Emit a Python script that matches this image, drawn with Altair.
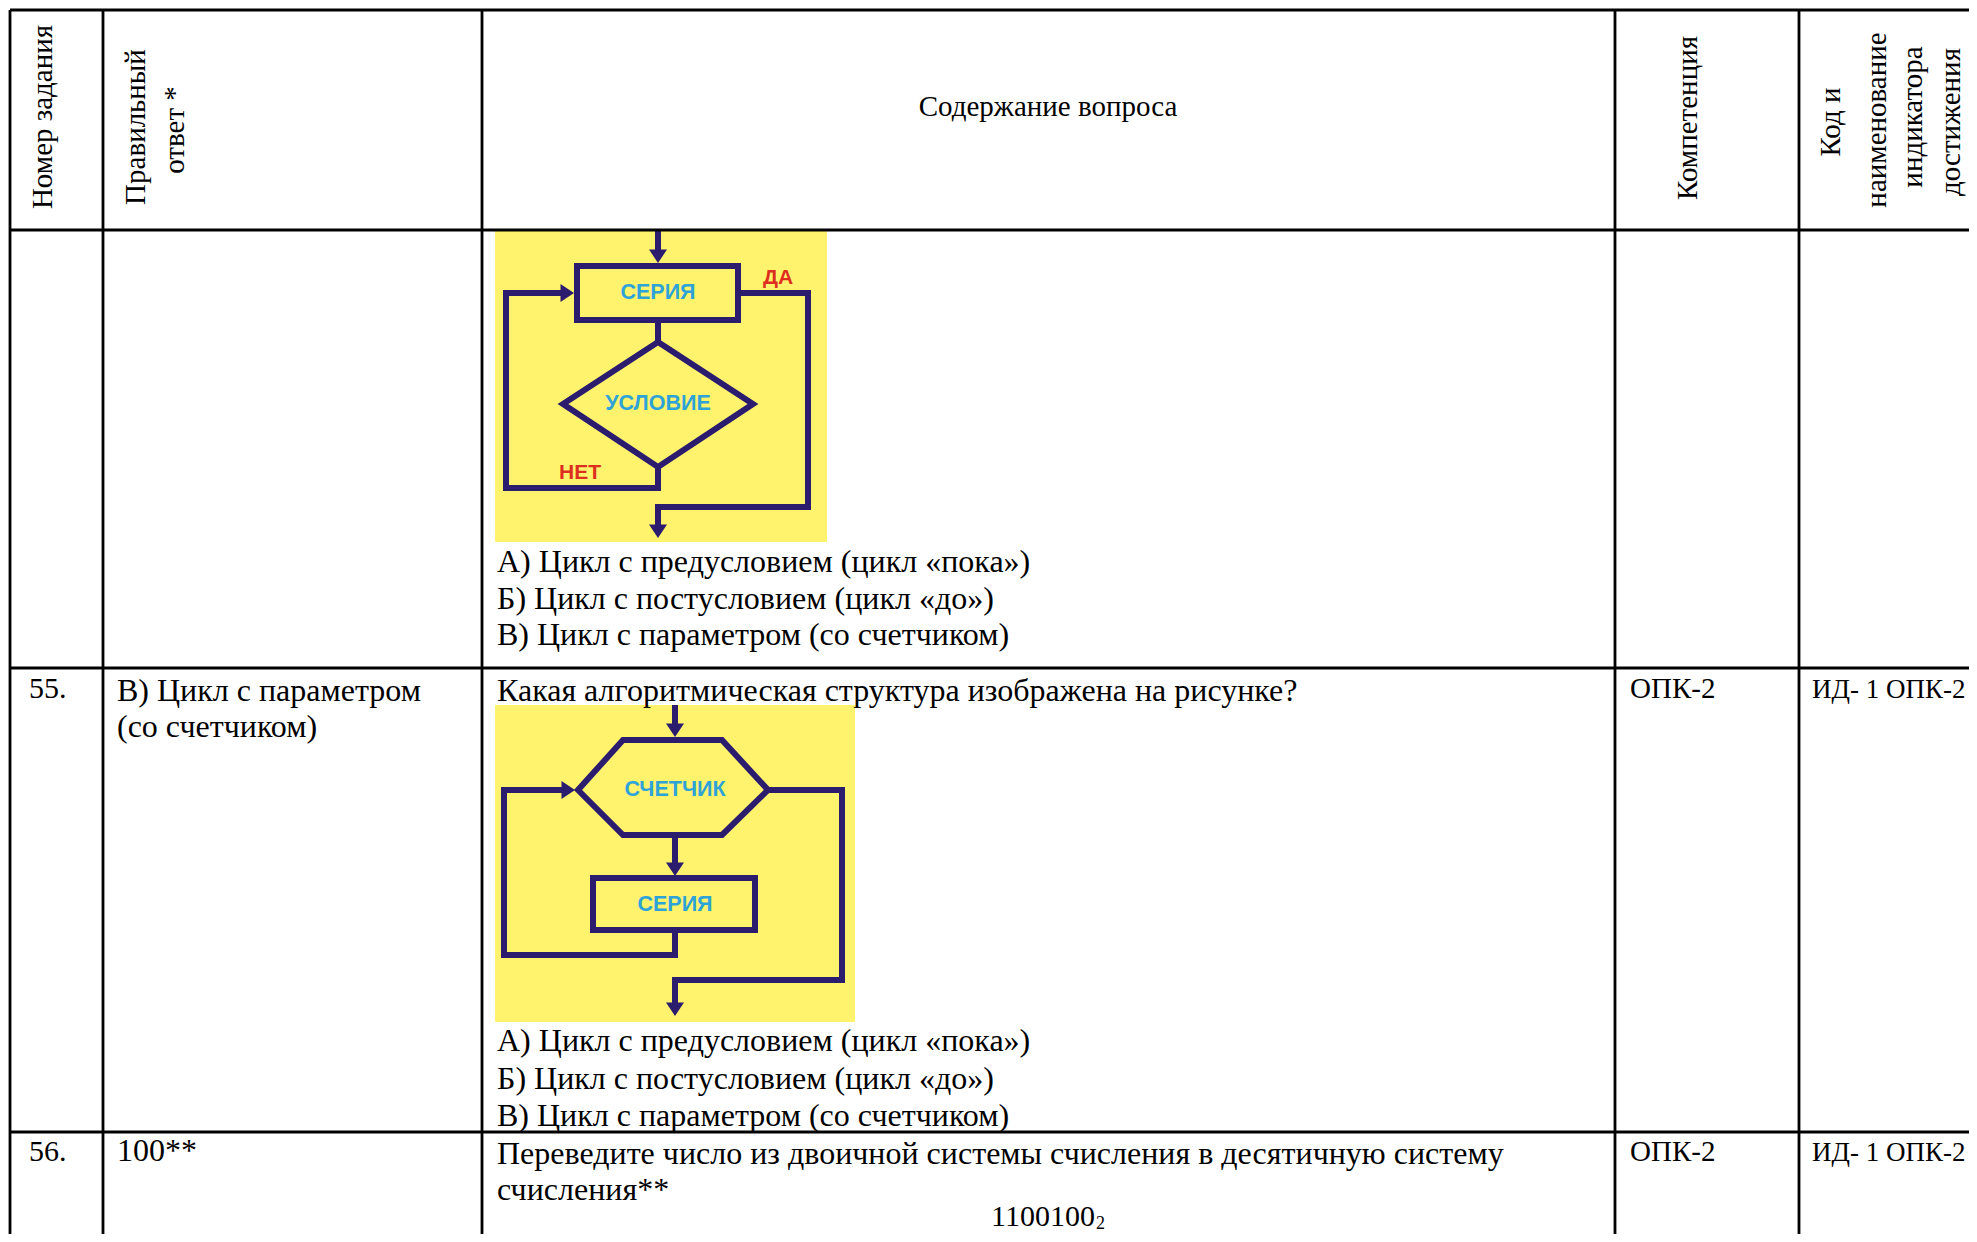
import altair as alt
import pandas as pd

# ---------------- data ----------------
# table grid (reference pixel coordinates)
grid_v_x = [10, 103, 482, 1615, 1799]
grid_v_y1 = [10, 10, 10, 10, 10]
grid_v_y2 = [1234, 1234, 1234, 1234, 1234]
grid_h_y = [10, 230, 668, 1132]
grid_h_x1 = [10, 10, 10, 10]
grid_h_x2 = [1969, 1969, 1969, 1969]

# header (rotated) texts
head_text = ["Номер задания", "Правильный", "ответ *", "Компетенция",
             "Код и", "наименование", "индикатора", "достижения"]
head_x = [43, 136, 175, 1688, 1831, 1877, 1913, 1951]
head_y = [117, 127, 130, 118, 122, 120, 117, 122]

# horizontal body texts (left aligned, baseline)
body_text = [
    "А) Цикл с предусловием (цикл «пока»)",
    "Б) Цикл с постусловием (цикл «до»)",
    "В) Цикл с параметром (со счетчиком)",
    "55.", "В) Цикл с параметром", "(со счетчиком)",
    "Какая алгоритмическая структура изображена на рисунке?",
    "ОПК-2", "ИД- 1 ОПК-2",
    "А) Цикл с предусловием (цикл «пока»)",
    "Б) Цикл с постусловием (цикл «до»)",
    "В) Цикл с параметром (со счетчиком)",
    "56.", "100**",
    "Переведите число из двоичной системы счисления в десятичную систему",
    "счисления**", "ОПК-2", "ИД- 1 ОПК-2", "1100100",
]
body_x = [497, 497, 497, 29, 117, 117, 497, 1630, 1812, 497, 497, 497,
          29, 117, 497, 497, 1630, 1812, 991]
body_y = [572, 609, 645, 698, 701, 737, 701, 698, 698, 1051, 1089, 1126,
          1161, 1161, 1164, 1200, 1161, 1161, 1226]
body_size = [32, 32, 32, 30, 32, 32, 32, 29, 27, 32, 32, 32,
             30, 32, 32, 32, 29, 27, 30]

center_text = ["Содержание вопроса"]
center_x = [1048]
center_y = [116]

sub_text = ["2"]
sub_x = [1096]
sub_y = [1229]

# yellow picture backgrounds
pic_x1 = [495, 495]
pic_x2 = [827, 855]
pic_y1 = [231, 705]
pic_y2 = [542, 1022]

# flowchart connector polylines
path_id = [1, 1, 2, 2, 3, 3, 3, 3, 3, 4, 4, 4, 4, 4,
           5, 5, 6, 6, 7, 7, 7, 7, 7, 8, 8, 8, 8, 8]
path_x = [658, 658, 658, 658, 658, 658, 506, 506, 565, 738, 808, 808, 658, 658,
          675, 675, 675, 675, 675, 675, 504, 504, 566, 768, 842, 842, 675, 675]
path_y = [231, 254, 320, 342, 467, 488, 488, 293, 293, 293, 293, 507, 507, 528,
          705, 728, 835, 866, 930, 955, 955, 790, 790, 790, 790, 980, 980, 1006]

# closed flowchart shapes
shape_id = [1, 1, 1, 1, 2, 2, 2, 2, 3, 3, 3, 3, 3, 3, 4, 4, 4, 4]
shape_x = [577, 738, 738, 577, 658, 753, 658, 563,
           623, 722, 768, 722, 623, 578, 593, 755, 755, 593]
shape_y = [266, 266, 320, 320, 342, 404, 467, 404,
           740, 740, 790, 835, 835, 790, 878, 878, 930, 930]

# arrow tips
down_x = [658, 658, 675, 675, 675]
down_y = [263, 538, 737, 876, 1016]
right_x = [574, 575]
right_y = [293, 790]

# flowchart labels
lab_text = ["СЕРИЯ", "УСЛОВИЕ", "СЧЕТЧИК", "СЕРИЯ"]
lab_x = [658, 658, 675, 675]
lab_y = [293, 404, 790, 905]
red_text = ["НЕТ", "ДА"]
red_x = [580, 778]
red_y = [473, 278]

# ---------------- chart ----------------
W, H = 1961, 1226
xs = alt.Scale(domain=[8, 8 + W], nice=False, zero=False)
ys = alt.Scale(domain=[8, 8 + H], nice=False, zero=False, reverse=True)

NAVY = "#2b1c6e"
YELLOW = "#fff36e"
CYAN = "#2ea3d8"
RED = "#dd2f1f"
SERIF = "Liberation Serif"
FS = 29


def X(f="x"):
    return alt.X(f + ":Q", scale=xs, axis=None)


def Y(f="y"):
    return alt.Y(f + ":Q", scale=ys, axis=None)


vlines = pd.DataFrame({"x": grid_v_x, "y": grid_v_y1, "y2": grid_v_y2})
hlines = pd.DataFrame({"y": grid_h_y, "x": grid_h_x1, "x2": grid_h_x2})
pics = pd.DataFrame({"x": pic_x1, "x2": pic_x2, "y": pic_y1, "y2": pic_y2})
paths = pd.DataFrame({"pid": path_id, "x": path_x, "y": path_y})
paths["seq"] = range(len(paths))
shapes = pd.DataFrame({"sid": shape_id, "x": shape_x, "y": shape_y})
shapes["seq"] = range(len(shapes))

pic_layer = alt.Chart(pics).mark_rect(color=YELLOW).encode(
    x=X(), x2="x2:Q", y=Y(), y2="y2:Q")

v_layer = alt.Chart(vlines).mark_rule(color="black", strokeWidth=2.8).encode(
    x=X(), y=Y(), y2="y2:Q")
h_layer = alt.Chart(hlines).mark_rule(color="black", strokeWidth=2.8).encode(
    x=X(), x2="x2:Q", y=Y())

path_layer = alt.Chart(paths).mark_line(
    color=NAVY, strokeWidth=6, strokeJoin="miter", strokeCap="butt").encode(
    x=X(), y=Y(), detail="pid:N", order="seq:Q")

shape_layer = alt.Chart(shapes).mark_line(
    color=NAVY, strokeWidth=6, strokeJoin="miter", interpolate="linear-closed").encode(
    x=X(), y=Y(), detail="sid:N", order="seq:Q")

down_layer = alt.Chart(pd.DataFrame({"x": down_x, "y": down_y})).mark_point(
    shape="M-1,-1.5L1,-1.5L0,0Z", filled=True, color=NAVY, opacity=1,
    size=324, strokeWidth=0).encode(x=X(), y=Y())
right_layer = alt.Chart(pd.DataFrame({"x": right_x, "y": right_y})).mark_point(
    shape="M-1.5,-1L-1.5,1L0,0Z", filled=True, color=NAVY, opacity=1,
    size=324, strokeWidth=0).encode(x=X(), y=Y())

lab_layer = alt.Chart(pd.DataFrame({"x": lab_x, "y": lab_y, "t": lab_text})).mark_text(
    font="Liberation Sans", fontWeight="bold", fontSize=21.5, color=CYAN,
    align="center", baseline="middle").encode(x=X(), y=Y(), text="t:N")
red_layer = alt.Chart(pd.DataFrame({"x": red_x, "y": red_y, "t": red_text})).mark_text(
    font="Liberation Sans", fontWeight="bold", fontSize=21, color=RED,
    align="center", baseline="middle").encode(x=X(), y=Y(), text="t:N")

head_layer = alt.Chart(pd.DataFrame({"x": head_x, "y": head_y, "t": head_text})).mark_text(
    font=SERIF, fontSize=FS, color="black", angle=270,
    align="center", baseline="middle").encode(x=X(), y=Y(), text="t:N")

body_layer = alt.Chart(pd.DataFrame({"x": body_x, "y": body_y, "t": body_text,
                                     "s": body_size})).mark_text(
    font=SERIF, color="black",
    align="left", baseline="alphabetic").encode(
    x=X(), y=Y(), text="t:N", size=alt.Size("s:Q", scale=None, legend=None))

center_layer = alt.Chart(pd.DataFrame({"x": center_x, "y": center_y, "t": center_text})).mark_text(
    font=SERIF, fontSize=FS, color="black",
    align="center", baseline="alphabetic").encode(x=X(), y=Y(), text="t:N")

sub_layer = alt.Chart(pd.DataFrame({"x": sub_x, "y": sub_y, "t": sub_text})).mark_text(
    font=SERIF, fontSize=18, color="black",
    align="left", baseline="alphabetic").encode(x=X(), y=Y(), text="t:N")

chart = alt.layer(
    pic_layer, path_layer, shape_layer, down_layer, right_layer,
    lab_layer, red_layer, v_layer, h_layer,
    head_layer, body_layer, center_layer, sub_layer,
).properties(
    width=W, height=H, padding=0, autosize="none", background="white"
).configure_view(stroke=None)

chart.save("out.html", embed_options={"renderer": "svg", "actions": False})
